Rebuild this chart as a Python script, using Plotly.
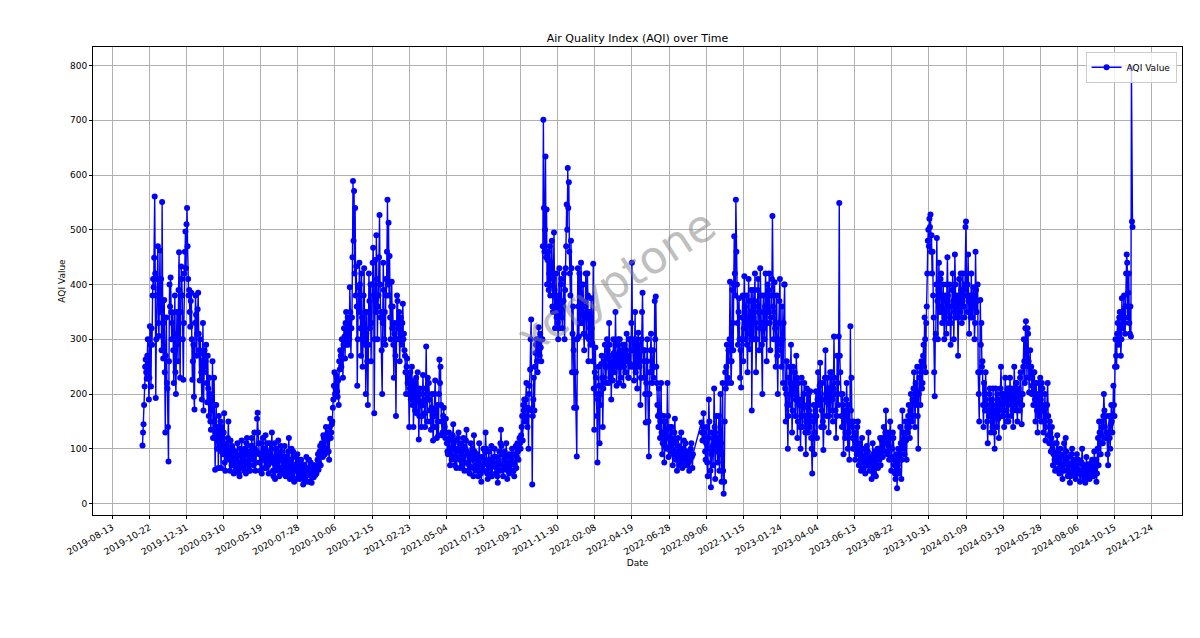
import pandas as pd
import plotly.graph_objects as go

# Daily AQI readings from each segment's start date, one row per month
# (None = missing readings, the line is drawn straight across them)
aqi_2019 = [
    106, 130, 145, 180, 214, 250, 263, 240, 228, 270, 300, 260, 190, 230, 324, 290, 214, 320, 290, 380, 410, 395, 449,  # Oct 9-31
    561, 420, 193, 300, 380, 410, 470, 330, 306, 390, 462, 350, 410, 280, 551, 370, 265, 330, 372, 240, 130, 270, 340, 220, 210, 140, 77, 260, 400, 360,  # Nov
    413, 350, 300, 330, 349, 280, 220, 310, 380, 240, 200, 290, 350, 300, 260, 390, 459, 300, 230, 350, 433, 410, 380, 300, 226, 330, 420, 460, 497, 430, 510,  # Dec
]
aqi_2020 = [
    540, 470, 410, 380, 390, 350, 323, 370, 385, 300, 226, 260, 290, 195, 172, 330, 380, 345, 270, 310, 355, 385, 310, 280, 225, 300, 275, 240, 190, 260, 330,  # Jan
    170, 240, 280, 250, 260, 290, 220, 185, 270, 210, 160, 230, 200, 150, 135, 190, 170, 260, 120, 150, 230, 180, 62, 130, 180, 117, 100, 140, 65,  # Feb
    160, 100, 120, 150, 65, 95, 140, 110, 90, 130, 165, 75, 60, 100, 110, 85, 90, 120, 150, 95, 80, 60, 115, 90, 70, 105, 100, 80, 55, 70, 85,  # Mar
    95, 80, 60, 85, 110, 70, 75, 55, 50, 100, 90, 65, 115, 85, 65, 95, 80, 60, 100, 75, 55, 110, 120, 90, 70, 60, 95, 80, 60, 105,  # Apr
    85, 120, 105, 80, 70, 95, 130, 100, 60, 75, 95, 155, 166, 130, 110, 90, 75, 60, 90, 110, 55, 80, 120, 95, 80, 65, 100, 125, 65, 90, 110,  # May
    90, 70, 55, 80, 110, 95, 75, 100, 130, 85, 60, 50, 85, 110, 45, 70, 100, 80, 70, 60, 115, 90, 50, 65, 80, 105, 95, 55, 60, 85,  # Jun
    75, 60, 105, 85, 50, 70, 85, 55, 65, 95, 120, 75, 45, 65, 80, 100, 55, 45, 95, 70, 40, 60, 70, 85, 60, 45, 90, 65, 50, 80, 75,  # Jul
    45, 62, 80, 50, 60, 72, 35, 55, 70, 42, 50, 65, 85, 58, 40, 52, 65, 80, 55, 40, 75, 62, 38, 55, 60, 70, 48, 60, 70, 52, 65,  # Aug
    55, 68, 80, 90, 62, 75, 95, 105, 70, 88, 110, 98, 85, 125, 120, 100, 90, 115, 140, 125, 100, 130, 117, 95, 80, 140, 155, 120, 130, 145,  # Sep
    150, 175, 190, 215, 240, 200, 210, 235, 230, 205, 195, 225, 180, 260, 245, 280, 270, 250, 300, 265, 230, 290, 320, 305, 265, 330, 350, 290, 305, 340, 290,  # Oct
    330, 300, 395, 350, 270, 320, 340, 450, 589, 480, 571, 420, 540, 380, 433, 360, 215, 300, 395, 350, 440, 400, 320, 270, 420, 340, 250, 300, 380, 430,  # Nov
    290, 350, 200, 310, 350, 260, 180, 290, 420, 370, 320, 400, 260, 330, 400, 440, 467, 380, 165, 300, 445, 350, 490, 410, 300, 360, 380, 450, 527, 400, 340,  # Dec
]
aqi_2021 = [
    350, 280, 200, 330, 440, 390, 300, 350, 290, 410, 380, 460, 555, 400, 513, 380, 452, 340, 300, 360, 405, 320, 360, 290, 230, 310, 330, 270, 160, 300, 380,  # Jan
    370, 320, 300, 350, 260, 300, 340, 310, 290, 330, 365, 300, 310, 280, 270, 240, 200, 250, 265, 220, 230, 200, 140, 210, 240, 190, 210, 250,  # Feb
    180, 215, 140, 190, 225, 170, 200, 230, 165, 190, 240, 205, 117, 160, 210, 185, 180, 140, 160, 200, 235, 180, 190, 165, 140, 210, 287, 200, 150, 230, 190,  # Mar
    220, 190, 170, 150, 135, 175, 200, 160, 115, 140, 160, 200, 225, 170, 140, 120, 180, 150, 125, 200, 263, 220, 250, 180, 150, 125, 130, 160, 175, 145,  # Apr
    140, 120, 155, 130, 110, 95, 90, 115, 130, 100, 70, 90, 120, 80, 100, 125, 145, 110, 85, 70, 115, 95, 65, 85, 100, 120, 130, 95, 80, 65, 110,  # May
    95, 80, 70, 105, 120, 85, 60, 75, 100, 115, 135, 95, 75, 60, 90, 70, 55, 85, 110, 90, 80, 100, 65, 50, 125, 95, 85, 70, 60, 80,  # Jun
    90, 65, 50, 75, 110, 85, 70, 55, 40, 62, 85, 70, 100, 80, 60, 95, 130, 100, 75, 55, 45, 70, 95, 80, 65, 50, 80, 105, 50, 68, 75,  # Jul
    70, 85, 100, 70, 55, 65, 85, 50, 38, 60, 75, 95, 60, 110, 135, 105, 90, 70, 50, 62, 80, 95, 65, 85, 110, 75, 45, 60, 70, 90, 55,  # Aug
    85, 70, 60, 80, 100, 90, 75, 60, 50, 72, 90, 105, 65, 85, 110, 95, 80, 100, 120, 110, 100, 125, 140, 160, 115, 180, 170, 190, 150, 175,  # Sep
    190, 220, 160, 140, 175, 100, 200, 215, 245, 300, 336, 170, 35, 160, 190, 230, 170, 250, 275, 290, 300, 260, 240, 280, 322, 300, 270, 310, 285, 260, 300,  # Oct
    300, 470, 701, 540, 460, 500, 634, 450, 537, 400, 445, 460, 390, 420, 470, 380, 398, 440, 480, 360, 350, 410, 495, 390, 320, 360, 420, 340, 370, 330,  # Nov
    300, 380, 430, 320, 350, 400, 410, 340, 320, 360, 370, 420, 300, 390, 430, 470, 546, 500, 613, 540, 587, 460, 420, 380, 480, 430, 240, 310, 360, 280, 175,  # Dec
]
aqi_2022 = [
    300, 240, 240, 175, 86, 300, 430, 360, 305, 420, 380, 330, 440, 400, 330, 370, 400, 310, 280, 340, 360, 420, 305, 350, 420, 380, 260, 300, 350, 320, 290,  # Jan
    375, 320, 293, 260, 438, 210, 135, 240, 285, 230, 200, 160, 75, 190, 250, 215, 110, 200, 180, 255, 270, 230, 140, 210, 230, 260, 290, 250,  # Feb
    220, 265, 300, 280, 250, 220, 330, 290, 230, 270, 190, 240, 260, 225, 300, 275, 240, 260, 350, 290, 215, 250, 270, 300, 250, 220, 300, 270, 230, 280, 250,  # Mar
    260, 290, 215, 250, 290, 270, 240, 280, 310, 260, 270, 230, 230, 300, 300, 255, 250, 330, 440, 300, 280, 250, 225, 290, 350, 240, 260, 300, 210, 260,  # Apr
    312, 270, 250, 290, 180, 230, 300, 350, 385, 280, 230, 260, 280, 200, 148, 220, 260, 300, 200, 150, 86, 200, 240, 280, 310, 260, 220, 250, 280, 230, 250,  # May
    370, 300, 378, 250, 220, 180, 160, 140, 210, 165, 120, 150, 220, 130, 90, 110, 130, 160, 75, 105, 150, 120, 100, 135, 220, 160, 85, 100, 120, 140,  # Jun
    95, 120, 140, 100, 70, 90, 110, 130, 155, 115, 80, 95, 60, 85, 120, 105, 90, 70, 75, 100, 130, 90, 65, 80, 100, 115, 85, 70, 110, 95, 80,  # Jul
    70, 85, 95, 75, 60, 90, 80, 100, 110, 85, 65, 90, None, None, None, None, None, None, None, None, None, None, None, None, None, None, None, 148, 130, 115, 140,  # Aug
    165, 130, 120, 95, 80, 110, 140, 75, 50, 120, 190, 150, 100, 60, 30, 90, 130, 105, 70, 120, 210, 140, 45, 100, 160, 120, 95, 75, 120, 160,  # Sep
    60, 130, 200, 110, 40, 90, 220, 60, 18, 40, 150, 240, 210, 250, 290, 220, 230, 280, 260, 300, 405, 290, 220, 260, 390, 330, 280, 400, 488, 420, 380,  # Oct
    555, 460, 400, 330, 290, 350, 375, 300, 230, 280, 212, 300, 340, 380, 260, 320, 415, 360, 300, 340, 380, 290, 240, 330, 410, 370, 282, 310, 350, 390,  # Nov
    170, 300, 390, 340, 300, 370, 420, 330, 240, 300, 360, 390, 410, 350, 280, 320, 430, 380, 330, 290, 200, 350, 380, 320, 300, 360, 420, 380, 260, 330, 400,  # Dec
]
aqi_2023 = [
    350, 390, 420, 330, 280, 340, 380, 410, 525, 360, 300, 350, 404, 320, 250, 300, 380, 270, 200, 290, 330, 370, 410, 300, 280, 250, 360, 300, 220, 330, 400,  # Jan
    400, 210, 150, 200, 260, 180, 100, 160, 230, 250, 180, 220, 290, 200, 130, 170, 250, 210, 200, 240, 160, 190, 270, 230, 120, 150, 220, 190,  # Feb
    180, 140, 100, 160, 230, 190, 140, 175, 200, 220, 160, 130, 90, 150, 210, 180, 130, 200, 170, 140, 205, 160, 120, 100, 55, 120, 150, 180, 90, 130, 170,  # Mar
    205, 160, 120, 190, 240, 200, 180, 215, 257, 190, 140, 170, 220, 150, 98, 140, 190, 230, 280, 200, 160, 185, 230, 210, 130, 160, 210, 240, 170, 200,  # Apr
    240, 190, 150, 210, 305, 230, 200, 170, 120, 160, 270, 220, 180, 305, 549, 270, 240, 200, 160, 140, 200, 180, 90, 150, 170, 120, 130, 190, 220, 160, 100,  # May
    180, 130, 80, 150, 324, 170, 230, 140, 120, 100, 150, 120, 100, 80, 130, 110, 90, 140, 150, 95, 70, 90, 110, 75, 60, 100, 120, 85, 80, 65,  # Jun
    100, 75, 55, 70, 90, 105, 70, 95, 130, 80, 60, 75, 85, 65, 45, 60, 110, 90, 75, 55, 95, 70, 50, 85, 80, 100, 65, 90, 100, 80, 120,  # Jul
    70, 95, 115, 100, 85, 120, 140, 110, 95, 130, 170, 125, 110, 90, 130, 105, 80, 120, 150, 100, 60, 85, 100, 130, 120, 80, 70, 55, 45, 75, 90,  # Aug
    28, 70, 100, 55, 60, 90, 140, 110, 45, 80, 170, 130, 110, 100, 90, 120, 150, 115, 80, 140, 130, 160, 180, 140, 120, 170, 200, 180, 150, 190,  # Sep
    160, 210, 240, 190, 140, 220, 200, 180, 250, 160, 100, 200, 230, 250, 180, 240, 260, 210, 220, 270, 290, 250, 340, 300, 240, 330, 360, 420, 480, 500, 470,  # Oct
    520, 505, 528, 460, 490, 420, 460, 380, 340, 240, 196, 300, 310, 400, 485, 370, 300, 390, 440, 360, 350, 410, 420, 380, 330, 350, 400, 370, 300, 340,  # Nov
    380, 350, 310, 400, 450, 380, 330, 360, 400, 340, 290, 330, 360, 390, 420, 370, 300, 350, 455, 400, 340, 370, 380, 360, 270, 340, 410, 380, 350, 420, 390,  # Dec
]
aqi_2024 = [
    330, 370, 420, 390, 360, 340, 400, 505, 515, 380, 350, 400, 455, 370, 310, 350, 380, 340, 420, 360, 340, 380, 395, 360, 300, 330, 460, 390, 350, 370, 400,  # Jan
    240, 200, 150, 240, 372, 290, 330, 250, 260, 180, 140, 220, 200, 170, 240, 190, 180, 150, 110, 170, 160, 200, 210, 160, 130, 180, 190, 140, 210,  # Feb
    170, 130, 100, 160, 210, 180, 140, 200, 190, 155, 120, 170, 180, 210, 250, 200, 160, 185, 200, 160, 140, 190, 230, 200, 170, 150, 210, 180, 150, 210, 190,  # Mar
    230, 190, 160, 210, 200, 170, 140, 190, 250, 210, 180, 220, 220, 170, 150, 200, 210, 185, 170, 230, 240, 200, 145, 180, 200, 250, 300, 260, 220, 320,  # Apr
    333, 280, 230, 320, 310, 260, 203, 250, 280, 230, 250, 200, 215, 240, 180, 210, 240, 190, 150, 220, 200, 170, 130, 190, 220, 160, 170, 230, 190, 150, 220,  # May
    210, 170, 130, 150, 180, 200, 115, 140, 160, 180, 220, 160, 125, 110, 150, 130, 95, 120, 140, 100, 70, 90, 110, 80, 60, 75, 90, 110, 125, 95,  # Jun
    80, 65, 55, 75, 100, 85, 70, 60, 45, 70, 90, 110, 60, 80, 120, 95, 75, 60, 50, 68, 85, 55, 38, 50, 70, 90, 100, 75, 55, 62, 80,  # Jul
    65, 50, 45, 70, 90, 62, 55, 80, 75, 58, 40, 55, 60, 75, 100, 70, 50, 60, 70, 45, 38, 52, 85, 68, 55, 72, 65, 50, 45, 60, 70,  # Aug
    60, 75, 80, 55, 50, 70, 95, 62, 65, 80, 40, 55, 100, 120, 70, 150, 130, 110, 90, 125, 150, 140, 110, 160, 200, 170, 140, 120, 160, 130,  # Sep
    120, 90, 70, 130, 160, 120, 100, 145, 180, 150, 130, 160, 215, 180, 160, 250, 300, 270, 250, 310, 330, 300, 290, 340, 350, 320, 270, 300, 375, 340, 320,  # Oct
    350, 380, 330, 310, 360, 420, 455, 440, 340, 385, 420, 330, 310, 360, 305, 795, 515, 505,  # Nov 1-18
]
segment_starts = ["2019-10-09", "2020-01-01", "2021-01-01", "2022-01-01", "2023-01-01", "2024-01-01"]
segments = [aqi_2019, aqi_2020, aqi_2021, aqi_2022, aqi_2023, aqi_2024]

tick_labels = [
    "2019-08-13", "2019-10-22", "2019-12-31", "2020-03-10", "2020-05-19", "2020-07-28",
    "2020-10-06", "2020-12-15", "2021-02-23", "2021-05-04", "2021-07-13", "2021-09-21",
    "2021-11-30", "2022-02-08", "2022-04-19", "2022-06-28", "2022-09-06", "2022-11-15",
    "2023-01-24", "2023-04-04", "2023-06-13", "2023-08-22", "2023-10-31", "2024-01-09",
    "2024-03-19", "2024-05-28", "2024-08-06", "2024-10-15", "2024-12-24",
]
y_ticks = [0, 100, 200, 300, 400, 500, 600, 700, 800]

dates, values = [], []
for start, seg in zip(segment_starts, segments):
    idx = pd.date_range(start, periods=len(seg), freq="D")
    for d, v in zip(idx, seg):
        if v is not None:
            dates.append(d)
            values.append(v)

# matplotlib-like 5% autoscale margins
dmin, dmax = min(dates), max(dates)
dspan = dmax - dmin
xr = [dmin - 0.05 * dspan, dmax + 0.05 * dspan]
vmin, vmax = min(values), max(values)
vspan = vmax - vmin
yr = [vmin - 0.05 * vspan, vmax + 0.05 * vspan]

FONT = "DejaVu Sans"
fig = go.Figure()
fig.add_trace(go.Scatter(
    x=dates, y=values, mode="lines+markers", name="AQI Value",
    line=dict(color="blue", width=1.4),
    marker=dict(color="blue", size=6),
))

axis_common = dict(
    showgrid=True, gridcolor="#b0b0b0", gridwidth=0.8,
    showline=True, linecolor="black", linewidth=0.8, mirror=True,
    ticks="outside", ticklen=3, tickwidth=0.8, tickcolor="black",
    zeroline=False, tickfont=dict(family=FONT, size=9, color="black"),
)
fig.update_xaxes(
    type="date", range=[str(xr[0]), str(xr[1])],
    tickmode="array", tickvals=tick_labels, ticktext=tick_labels, tickangle=-30,
    title=dict(text="Date", font=dict(family=FONT, size=9, color="black"), standoff=3),
    **axis_common,
)
fig.update_yaxes(
    range=yr, tickmode="array", tickvals=y_ticks,
    title=dict(text="AQI Value", font=dict(family=FONT, size=9, color="black"), standoff=2),
    **axis_common,
)

fig.update_layout(
    width=1200, height=638,
    margin=dict(l=93, r=18, t=47, b=123),
    paper_bgcolor="white", plot_bgcolor="white",
    font=dict(family=FONT, size=9, color="black"),
    title=dict(text="Air Quality Index (AQI) over Time", x=0.5, xref="paper",
               y=1 - 38 / 638, yref="container", yanchor="middle", xanchor="center",
               font=dict(family=FONT, size=11, color="black")),
    showlegend=True,
    legend=dict(x=0.995, y=0.99, xanchor="right", yanchor="top",
                bgcolor="rgba(255,255,255,0.8)", bordercolor="#cccccc", borderwidth=1,
                font=dict(family=FONT, size=9, color="black")),
    annotations=[dict(text="xcryptone", xref="paper", yref="paper", x=0.48, y=0.5,
                      showarrow=False, textangle=-33,
                      font=dict(family=FONT, size=45, color="rgba(128,128,128,0.5)"))],
)

fig.write_html("out.html")
